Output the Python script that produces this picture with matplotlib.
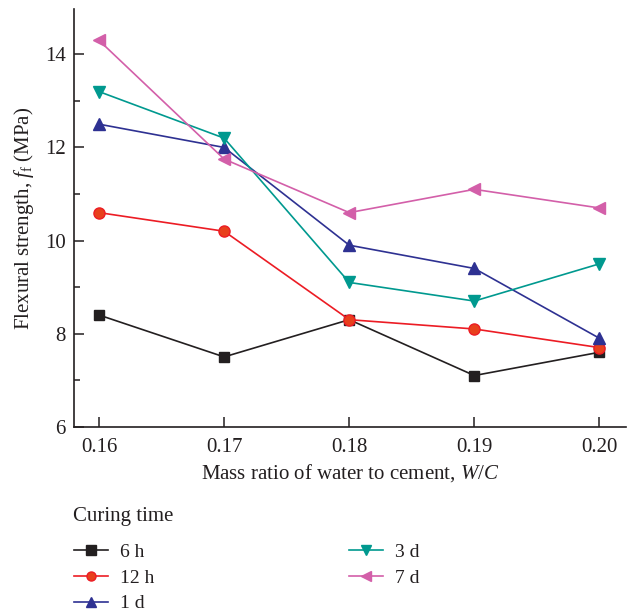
import matplotlib.pyplot as plt
from matplotlib.ticker import MultipleLocator

plt.rcParams['font.family'] = ['Liberation Serif', 'DejaVu Serif']
plt.rcParams['mathtext.fontset'] = 'custom'
plt.rcParams['mathtext.rm'] = 'Liberation Serif'
plt.rcParams['mathtext.it'] = 'Liberation Serif:italic'

# water/cement ratio
wc = [0.16, 0.17, 0.18, 0.19, 0.20]

# flexural strength (MPa) per curing time
s_6h = [8.4, 7.5, 8.3, 7.1, 7.6]
s_12h = [10.6, 10.2, 8.3, 8.1, 7.7]
s_1d = [12.5, 12.0, 9.9, 9.4, 7.9]
s_3d = [13.2, 12.2, 9.1, 8.7, 9.5]
s_7d = [14.3, 11.75, 10.6, 11.1, 10.7]

labels = ['6 h', '12 h', '1 d', '3 d', '7 d']

fig = plt.figure(figsize=(6.27, 6.14), dpi=100)
ax = fig.add_axes([0.118, 0.305, 0.880, 0.680])

ax.plot(wc, s_6h, color='#231f20', lw=1.2, marker='s', ms=7, mfc='#231f20', mec='#231f20', label=labels[0])
ax.plot(wc, s_12h, color='#ec1c24', lw=1.2, marker='o', ms=8, mfc='#e8401c', mec='#ec1c24', label=labels[1])
ax.plot(wc, s_1d, color='#2e3192', lw=1.2, marker='^', ms=9, mfc='#2e3192', mec='#2e3192', label=labels[2])
ax.plot(wc, s_3d, color='#00998f', lw=1.2, marker='v', ms=9, mfc='#00998f', mec='#00998f', label=labels[3])
ax.plot(wc, s_7d, color='#d35fa9', lw=1.2, marker='<', ms=9, mfc='#d35fa9', mec='#d35fa9', label=labels[4])

ax.set_xlim(0.158, 0.2021)
ax.set_ylim(6, 14.97)
ax.set_xticks(wc)
ax.set_xticklabels(['0.16', '0.17', '0.18', '0.19', '0.20'])
ax.yaxis.set_major_locator(MultipleLocator(2))
ax.yaxis.set_minor_locator(MultipleLocator(1))

for side in ['top', 'right']:
    ax.spines[side].set_visible(False)
for side in ['left', 'bottom']:
    ax.spines[side].set_linewidth(1.2)
    ax.spines[side].set_color('#231f20')

ax.tick_params(which='major', direction='in', length=7, width=1.1, labelsize=15, color='#231f20', labelcolor='#231f20')
ax.tick_params(which='minor', direction='in', length=4, width=1.1, color='#231f20')
ax.tick_params(axis='x', pad=8)
ax.tick_params(axis='y', pad=6)

ax.set_xlabel('Mass ratio of water to cement, $W/C$', fontsize=15, color='#231f20', labelpad=4)
ax.set_ylabel('Flexural strength, $f_\\mathrm{f}$ (MPa)', fontsize=15, color='#231f20', labelpad=6)

# legend block under the axes
fig.text(0.117, 1 - 517 / 614, 'Curing time', fontsize=15, color='#231f20', va='center', ha='left')
leg = fig.legend(loc='upper left', bbox_to_anchor=(0.103, 1 - 533.5 / 614), ncol=2, frameon=False,
                 fontsize=14, handlelength=1.75, handletextpad=0.6, columnspacing=10.0,
                 labelspacing=0.42, borderpad=0, labelcolor='#231f20')
for h in leg.legend_handles:
    h.set_markersize(6.5)

fig.savefig('out.png', dpi=100)
